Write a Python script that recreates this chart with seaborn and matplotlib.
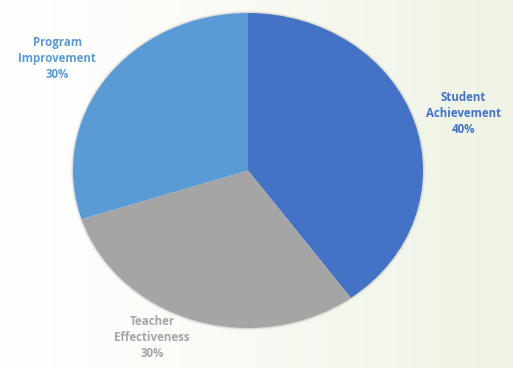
import numpy as np
import matplotlib
matplotlib.use("Agg")
import matplotlib.pyplot as plt
from matplotlib.colors import LinearSegmentedColormap
from matplotlib.patches import Circle
import seaborn as sns

categories = ["Student\nAchievement", "Teacher\nEffectiveness", "Program\nImprovement"]
values = [40, 30, 30]
colors = ["#4472C4", "#A5A5A5", "#5B9BD5"]
label_pos = [(1.229, 0.365), (-0.549, -1.063), (-1.091, 0.714)]

sns.set_theme(style="white")
plt.rcParams["font.family"] = ["Open Sans", "DejaVu Sans"]

fig = plt.figure(figsize=(5.13, 3.68), dpi=100)

# background gradient
bg = fig.add_axes([0, 0, 1, 1], zorder=0)
grad = np.tile(np.linspace(0, 1, 256), (2, 1))
cmap = LinearSegmentedColormap.from_list("bg", [(0, "#ffffff"), (0.35, "#fbfcf8"), (1, "#eef3e4")])
bg.imshow(grad, aspect="auto", cmap=cmap, extent=[0, 1, 0, 1])
bg.set_axis_off()

ax = fig.add_axes([0, 0, 1, 1], zorder=1)
ax.patch.set_alpha(0)
# soft shadow ring
for lw, a in [(3.0, 0.08), (1.6, 0.12)]:
    ax.add_patch(Circle((0, 0), 1.0, facecolor="none", edgecolor="#606060",
                        linewidth=lw, alpha=a, zorder=0))
wedges, _ = ax.pie(values, colors=colors, startangle=90, counterclock=False,
                   wedgeprops=dict(linewidth=0))
ax.set_aspect("auto")
rx, ry = 175.0, 157.5
cx, cy = 248.0, 368 - 170.5
ax.set_xlim(-cx / rx, (513 - cx) / rx)
ax.set_ylim(-cy / ry, (368 - cy) / ry)
ax.set_axis_off()

for cat, v, c, (x, y) in zip(categories, values, colors, label_pos):
    ax.text(x, y, f"{cat}\n{v}%", ha="center", va="center", color=c,
            fontsize=8.3, fontweight="bold", linespacing=1.3)

fig.savefig("out.png", dpi=100)
